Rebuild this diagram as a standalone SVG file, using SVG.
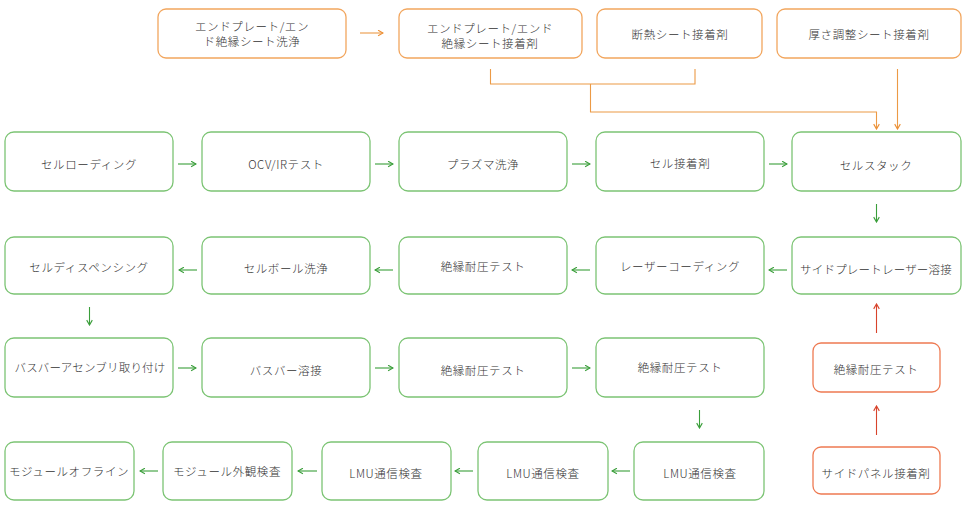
<svg xmlns="http://www.w3.org/2000/svg" width="972" height="510" viewBox="0 0 972 510">
<defs>
<marker id="ag" viewBox="0 0 10 10" refX="9" refY="5" markerWidth="7" markerHeight="7" orient="auto" markerUnits="userSpaceOnUse"><path d="M2,1 L9,5 L2,9" fill="none" stroke="#3a9e3a" stroke-width="1.6"/></marker>
<marker id="ao" viewBox="0 0 10 10" refX="9" refY="5" markerWidth="7" markerHeight="7" orient="auto" markerUnits="userSpaceOnUse"><path d="M2,1 L9,5 L2,9" fill="none" stroke="#ec8f33" stroke-width="1.6"/></marker>
<marker id="ar" viewBox="0 0 10 10" refX="9" refY="5" markerWidth="7" markerHeight="7" orient="auto" markerUnits="userSpaceOnUse"><path d="M2,1 L9,5 L2,9" fill="none" stroke="#d8432b" stroke-width="1.6"/></marker>
</defs>
<style>
.g rect{fill:#fff;stroke:#7cc474;stroke-width:1.3}
.o rect{fill:#fff;stroke:#f2a65e;stroke-width:1.3}
.r rect{fill:#fff;stroke:#ee7a52;stroke-width:1.3}
text{font-family:"Noto Sans CJK JP","Noto Sans CJK SC",sans-serif;font-size:11.5px;font-weight:300;letter-spacing:0.6px;fill:#333;text-anchor:middle;dominant-baseline:central}
.cg{stroke:#3a9e3a;stroke-width:1.1;fill:none;marker-end:url(#ag)}
.co{stroke:#ec9a45;stroke-width:1.1;fill:none}
.coa{stroke:#ec9a45;stroke-width:1.1;fill:none;marker-end:url(#ao)}
.cr{stroke:#d8432b;stroke-width:1.1;fill:none;marker-end:url(#ar)}
</style>
<rect width="972" height="510" fill="#fff"/>
<g id="connectors">
<path class="coa" d="M360,33 H383"/>
<path class="co" d="M490.5,69 V84 H695 V69"/>
<path class="coa" d="M590.5,84 V112 H876.5 V129"/>
<path class="coa" d="M897.5,69 V129"/>
<path class="cg" d="M178,164 H196"/>
<path class="cg" d="M375,164 H393"/>
<path class="cg" d="M572,164 H590"/>
<path class="cg" d="M769,164 H787"/>
<path class="cg" d="M876.5,204 V222"/>
<path class="cg" d="M787,270 H769"/>
<path class="cg" d="M590,270 H572"/>
<path class="cg" d="M393,270 H375"/>
<path class="cg" d="M197,270 H179"/>
<path class="cg" d="M89.5,307 V325"/>
<path class="cg" d="M178,368 H196"/>
<path class="cg" d="M375,368 H393"/>
<path class="cg" d="M572,368 H590"/>
<path class="cg" d="M699.5,410 V428"/>
<path class="cg" d="M630,471 H612"/>
<path class="cg" d="M473,471 H455"/>
<path class="cg" d="M317,471 H298"/>
<path class="cg" d="M158,471 H140"/>
<path class="cr" d="M876.5,435 V406"/>
<path class="cr" d="M876.5,333 V304"/>
</g>
<g id="n1" class="o"><rect x="158" y="9" width="188" height="49" rx="8"/><text x="252" y="26">エンドプレート/エン</text><text x="252" y="41">ド絶縁シート洗浄</text></g>
<g id="n2" class="o"><rect x="399" y="9" width="183" height="49" rx="8"/><text x="490" y="28">エンドプレート/エンド</text><text x="490" y="43">絶縁シート接着剤</text></g>
<g id="n3" class="o"><rect x="597" y="9" width="165" height="49" rx="8"/><text x="680" y="34">断熱シート接着剤</text></g>
<g id="n4" class="o"><rect x="777" y="9" width="184" height="49" rx="8"/><text x="869" y="34">厚さ調整シート接着剤</text></g>
<g id="n5" class="g"><rect x="5" y="132" width="168" height="59" rx="9"/><text x="89" y="164">セルローディング</text></g>
<g id="n6" class="g"><rect x="202" y="132" width="168" height="59" rx="9"/><text x="286" y="164">OCV/IRテスト</text></g>
<g id="n7" class="g"><rect x="399" y="132" width="168" height="59" rx="9"/><text x="483" y="164">プラズマ洗浄</text></g>
<g id="n8" class="g"><rect x="596" y="132" width="168" height="59" rx="9"/><text x="680" y="163">セル接着剤</text></g>
<g id="n9" class="g"><rect x="792" y="132" width="169" height="59" rx="9"/><text x="876" y="165">セルスタック</text></g>
<g id="n10" class="g"><rect x="792" y="237" width="169" height="57" rx="9"/><text x="876" y="269" style="letter-spacing:0.2px">サイドプレートレーザー溶接</text></g>
<g id="n11" class="g"><rect x="596" y="237" width="168" height="57" rx="9"/><text x="680" y="266">レーザーコーディング</text></g>
<g id="n12" class="g"><rect x="399" y="237" width="168" height="57" rx="9"/><text x="483" y="266">絶縁耐圧テスト</text></g>
<g id="n13" class="g"><rect x="202" y="237" width="168" height="57" rx="9"/><text x="286" y="268">セルボール洗浄</text></g>
<g id="n14" class="g"><rect x="5" y="237" width="168" height="57" rx="9"/><text x="89" y="267">セルディスペンシング</text></g>
<g id="n15" class="g"><rect x="5" y="338" width="168" height="59" rx="9"/><text x="90" y="367" style="letter-spacing:0.2px">バスバーアセンブリ取り付け</text></g>
<g id="n16" class="g"><rect x="202" y="338" width="168" height="59" rx="9"/><text x="286" y="370">バスバー溶接</text></g>
<g id="n17" class="g"><rect x="399" y="338" width="168" height="59" rx="9"/><text x="483" y="370">絶縁耐圧テスト</text></g>
<g id="n18" class="g"><rect x="596" y="338" width="168" height="59" rx="9"/><text x="680" y="367">絶縁耐圧テスト</text></g>
<g id="n19" class="g"><rect x="634" y="442" width="130" height="58" rx="9"/><text x="700" y="473">LMU通信検査</text></g>
<g id="n20" class="g"><rect x="478" y="442" width="130" height="58" rx="9"/><text x="543" y="473">LMU通信検査</text></g>
<g id="n21" class="g"><rect x="322" y="442" width="129" height="58" rx="9"/><text x="386" y="473">LMU通信検査</text></g>
<g id="n22" class="g"><rect x="163" y="442" width="129" height="58" rx="9"/><text x="227" y="471">モジュール外観検査</text></g>
<g id="n23" class="g"><rect x="5" y="442" width="129" height="58" rx="9"/><text x="69" y="471">モジュールオフライン</text></g>
<g id="n24" class="r"><rect x="813" y="343" width="127" height="49" rx="8"/><text x="876" y="369">絶縁耐圧テスト</text></g>
<g id="n25" class="r"><rect x="813" y="447" width="127" height="47" rx="8"/><text x="876" y="473">サイドパネル接着剤</text></g>
</svg>
